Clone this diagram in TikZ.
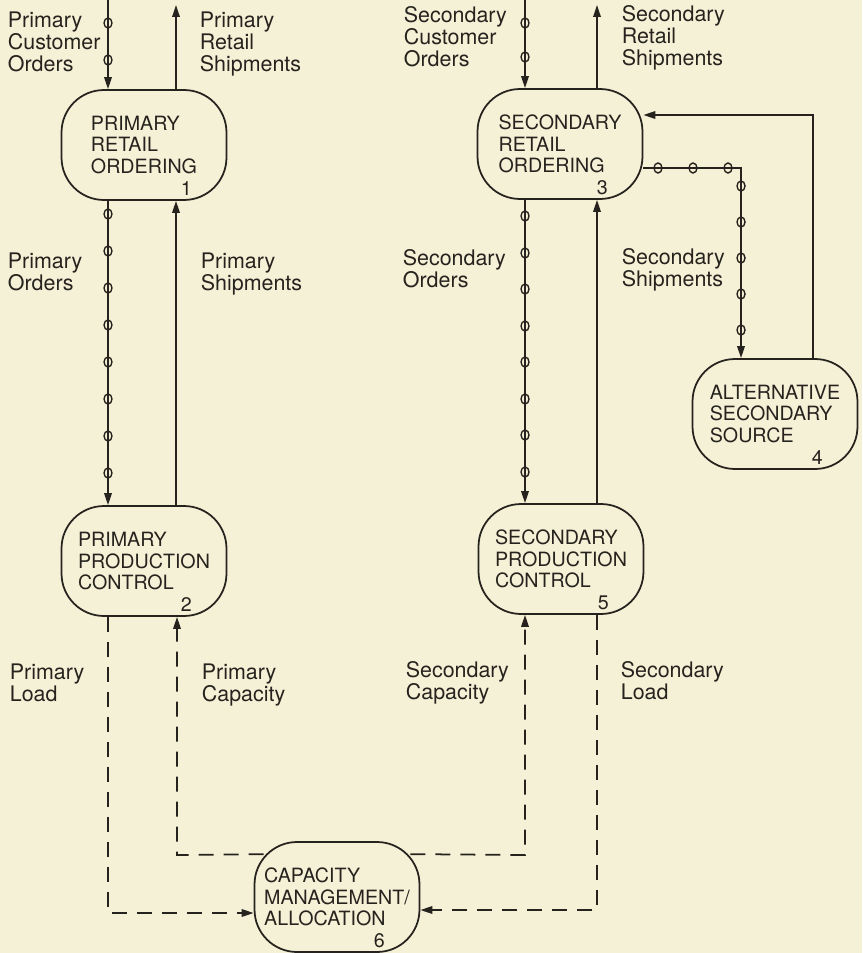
\documentclass[tikz,border=0pt]{standalone}
\usepackage{fontspec}
\setmainfont{TeX Gyre Heros}
\usepackage{tikz}
\usetikzlibrary{arrows.meta,calc}

\definecolor{paper}{RGB}{245,241,215}
\definecolor{ink}{RGB}{38,35,30}

\begin{document}
\begin{tikzpicture}[x=0.02cm,y={(0,-0.02cm)},line width=1pt,draw=ink,text=ink,
		proc/.style={draw=ink,rounded corners=0.85cm,minimum width=3.3cm,minimum height=2.2cm,align=left,inner sep=0pt,font=\fontsize{11.2}{12.3}\selectfont},
		num/.style={anchor=base,inner sep=0pt,font=\fontsize{11.2}{12.3}\selectfont},
		lbl/.style={anchor=north west,align=left,inner sep=0pt,font=\fontsize{12.2}{12.4}\selectfont},
		flow/.style={-{Triangle[length=2.4mm,width=1.5mm]}},
		dsh/.style={dash pattern=on 0.3cm off 0.2cm},
		ring/.style={line width=0.8pt}]
				\fill[paper] (0,0) rectangle (862,953);
				\useasboundingbox (0,0) rectangle (862,953);
				% processes
				\node[proc] (ret-pri) at (144,145) {PRIMARY\\RETAIL\\ORDERING};
				\node[proc] (prod-pri) at (144,561) {PRIMARY\\PRODUCTION\\CONTROL};
				\node[proc] (ret-sec) at (560,144) {SECONDARY\\RETAIL\\ORDERING};
				\node[proc] (alt-src) at (775,414) {ALTERNATIVE\\SECONDARY\\SOURCE};
				\node[proc] (prod-sec) at (561,559) {SECONDARY\\PRODUCTION\\CONTROL};
				\node[proc] (cap-mgmt) at (337,897) {CAPACITY\\MANAGEMENT/\\ALLOCATION};
				\node[num] (ret-pri-n) at ([xshift=-0.82cm,yshift=0.1cm]ret-pri.south east) {1};
				\node[num] (prod-pri-n) at ([xshift=-0.82cm,yshift=0.1cm]prod-pri.south east) {2};
				\node[num] (ret-sec-n) at ([xshift=-0.82cm,yshift=0.1cm]ret-sec.south east) {3};
				\node[num] (alt-src-n) at ([xshift=-0.82cm,yshift=0.1cm]alt-src.south east) {4};
				\node[num] (prod-sec-n) at ([xshift=-0.82cm,yshift=0.1cm]prod-sec.south east) {5};
				\node[num] (cap-mgmt-n) at ([xshift=-0.82cm,yshift=0.1cm]cap-mgmt.south east) {6};
				% labels
				\node[lbl] (l-pco) at (7,11) {Primary\\Customer\\Orders};
				\node[lbl] (l-prs) at (199,11) {Primary\\Retail\\Shipments};
				\node[lbl] (l-sco) at (403,6) {Secondary\\Customer\\Orders};
				\node[lbl] (l-srs) at (621,5) {Secondary\\Retail\\Shipments};
				\node[lbl] (l-po) at (7,252) {Primary\\Orders};
				\node[lbl] (l-ps) at (200,252) {Primary\\Shipments};
				\node[lbl] (l-so) at (402,249) {Secondary\\Orders};
				\node[lbl] (l-ss) at (621,248) {Secondary\\Shipments};
				\node[lbl] (l-pl) at (9,663) {Primary\\Load};
				\node[lbl] (l-pc) at (201,663) {Primary\\Capacity};
				\node[lbl] (l-sc) at (405,661) {Secondary\\Capacity};
				\node[lbl] (l-sl) at (620,661) {Secondary\\Load};
				% primary flows
				\coordinate (pco) at (108,0);
				\coordinate (prs) at (176,5);
				\draw[flow] (pco) -- (pco |- ret-pri.north);
				\draw[flow] (prs |- ret-pri.north) -- (prs);
				\draw[flow] (pco |- ret-pri.south) -- (pco |- prod-pri.north);
				\draw[flow] (prs |- prod-pri.north) -- (prs |- ret-pri.south);
				\foreach \y in {23,60,214,251,288,325,362,399,436,473}
					\draw[ring] (108,\y) circle[x radius=4,y radius=5];
				% secondary flows
				\coordinate (sco) at (525,0);
				\coordinate (srs) at (597,5);
				\draw[flow] (sco) -- (sco |- ret-sec.north);
				\draw[flow] (srs |- ret-sec.north) -- (srs);
				\draw[flow] (sco |- ret-sec.south) -- (sco |- prod-sec.north);
				\draw[flow] (srs |- prod-sec.north) -- (srs |- ret-sec.south);
				\foreach \y in {23,57,216,253,289,326,362,399,435,472}
					\draw[ring] (525,\y) circle[x radius=4,y radius=5];
				% alternative source
				\coordinate (alt-in) at (741,168);
				\coordinate (alt-out) at (813,115);
				\draw[flow] (ret-sec.east |- alt-in) -- (alt-in) -- (alt-in |- alt-src.north);
				\draw[flow] (alt-out |- alt-src.north) -- (alt-out) -- (ret-sec.east |- alt-out);
				\foreach \x in {658,693,728}
					\draw[ring] (\x,168) circle[x radius=4,y radius=5];
				\foreach \y in {186,222,258,294,330}
					\draw[ring] (741,\y) circle[x radius=4,y radius=5];
				% capacity loop
				\coordinate (pl) at (108,913);
				\coordinate (pc) at (177,855);
				\coordinate (sc) at (525,855);
				\coordinate (sl) at (597,910);
				\draw[dsh,flow] (prod-pri.south -| pl) -- (pl) -- (cap-mgmt.west |- pl);
				\draw[dsh,flow] ($(cap-mgmt.north west)+(10,13)$) -- (pc) -- (pc |- prod-pri.south);
				\draw[dsh,flow] ($(cap-mgmt.north east)+(-10,13)$) -- (sc) -- (sc |- prod-sec.south);
				\draw[dsh,flow] (prod-sec.south -| sl) -- (sl) -- (cap-mgmt.east |- sl);
\end{tikzpicture}
\end{document}
